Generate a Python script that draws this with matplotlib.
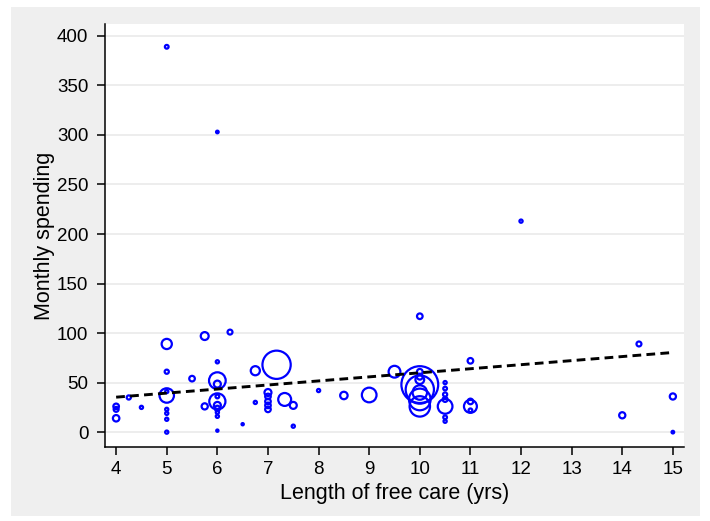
import matplotlib
matplotlib.use("Agg")
import matplotlib.pyplot as plt
from matplotlib.patches import Rectangle
import numpy as np

plt.rcParams["font.family"] = ["Liberation Sans", "DejaVu Sans"]

# Length of free care (years)
years = [4, 4, 4, 4.25, 4.5,
         5, 5, 5, 5, 5, 5, 5, 5, 5,
         5.5, 5.75, 5.75,
         6, 6, 6, 6, 6, 6, 6, 6, 6, 6, 6,
         6.25, 6.5, 6.75, 6.75,
         7, 7, 7, 7, 7, 7.17, 7.33, 7.5, 7.5,
         8, 8.5, 9, 9.5,
         10, 10, 10, 10, 10, 10, 10, 10, 10,
         10.5, 10.5, 10.5, 10.5, 10.5, 10.5, 10.5,
         11, 11, 11, 11,
         12, 14, 14.33, 15, 15]

# Monthly spending
spending = [26, 23, 14, 35, 25,
            389, 89, 61, 41, 37, 23, 19, 13, 0,
            54, 97, 26,
            303, 71, 52, 48.5, 36, 31, 27, 24, 20, 16, 1.5,
            101, 8, 62, 30,
            40, 36, 31, 27, 23, 68, 33, 27, 6,
            42, 37, 37.5, 61,
            117, 61, 56, 53, 48, 43, 40, 33, 26,
            50, 44, 38, 33, 26, 15, 11,
            72, 31, 26, 22,
            213, 17, 89, 36, 0]

# Analytic weights (marker area is proportional to weight)
weight = [9, 7, 12, 5, 3,
          4, 30, 5, 3, 60, 3, 3, 3, 3,
          9, 18, 11,
          2, 3, 80, 14, 4, 75, 14, 8, 3, 3, 1.5,
          7, 1.5, 24, 3,
          14, 9, 9, 9, 9, 230, 48, 14, 3,
          3, 16, 62, 40,
          9, 9, 10, 22, 390, 230, 60, 135, 120,
          3, 4, 5, 7, 62, 4, 3,
          9, 9, 48, 4,
          3, 11, 7, 11, 2]

# Linear fit endpoints
fit_x = [4, 15]
fit_y = [35.3, 80.4]

W, H, DPI = 710, 521, 100
fig = plt.figure(figsize=(W / DPI, H / DPI), dpi=DPI)
fig.patch.set_facecolor("white")
fig.patches.append(Rectangle((11 / W, 1 - 516 / H), 689 / W, 509 / H,
                             transform=fig.transFigure, facecolor="#efefef",
                             edgecolor="none", zorder=-10))

ax = fig.add_axes([105 / W, 1 - 447 / H, 579 / W, 423 / H])
ax.set_facecolor("white")

sizes = 1.8 * np.asarray(weight, dtype=float)
ax.scatter(years, spending, s=sizes, facecolors="none", edgecolors="#0000ff",
           linewidths=1.6, zorder=3)
ax.plot(fit_x, fit_y, color="black", lw=2.1, linestyle=(0, (3.0, 1.8)),
        zorder=4)

ax.set_xlim(3.78, 15.22)
ax.set_ylim(-15, 412)
ax.set_xticks(range(4, 16))
ax.set_yticks(range(0, 401, 50))
ax.yaxis.grid(True, color="#eaeaea", linewidth=1.2, zorder=0)
ax.set_axisbelow(True)

for side in ("top", "right"):
    ax.spines[side].set_visible(False)
for side in ("left", "bottom"):
    ax.spines[side].set_linewidth(1.1)
    ax.spines[side].set_color("black")

ax.tick_params(axis="both", direction="out", length=6, width=1.1,
               labelsize=13.5, colors="black", pad=4)
ax.tick_params(axis="y", pad=6)

ax.set_xlabel("Length of free care (yrs)", fontsize=15.5, labelpad=4)
ax.set_ylabel("Monthly spending", fontsize=15.5, labelpad=1)

fig.savefig("out.png", dpi=DPI, facecolor=fig.get_facecolor())
